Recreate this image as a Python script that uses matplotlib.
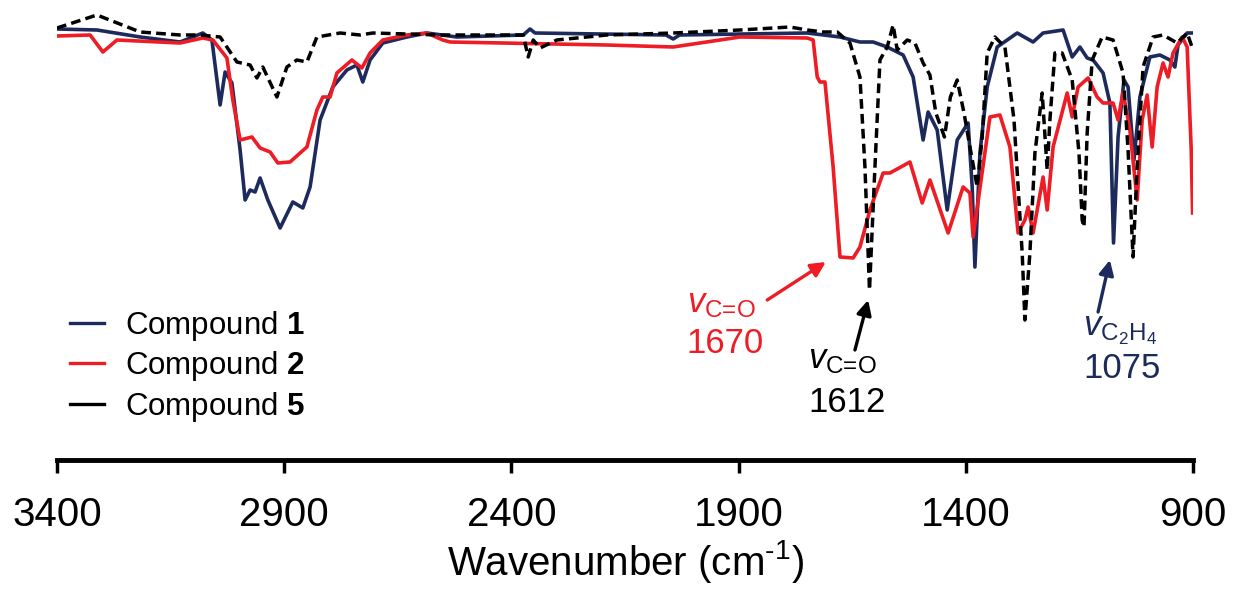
import matplotlib
matplotlib.use('Agg')
import matplotlib.pyplot as plt
from matplotlib.lines import Line2D
import numpy as np

plt.rcParams['font.family'] = ['Liberation Sans', 'DejaVu Sans']
plt.rcParams['mathtext.fontset'] = 'custom'
plt.rcParams['mathtext.rm'] = 'Liberation Sans'
plt.rcParams['mathtext.it'] = 'Liberation Sans:italic'
plt.rcParams['mathtext.bf'] = 'Liberation Sans:bold'

# Data (wavenumber in cm-1, transmittance in arbitrary units)
wn_1 = [3400, 3312, 3217, 3129, 3079, 3059, 3041, 3030, 3015, 2997, 2986, 2975, 2964,
        2953, 2936, 2909, 2881, 2859, 2843, 2821, 2793, 2762, 2740, 2727, 2711, 2683,
        2630, 2586, 2520, 2374, 2359, 2348, 2060, 2044, 2030, 1749, 1677, 1633, 1604,
        1573, 1538, 1516, 1494, 1483, 1463, 1441, 1419, 1395, 1386, 1380, 1369, 1353,
        1331, 1287, 1252, 1230, 1186, 1166, 1149, 1133, 1120, 1098, 1083, 1075, 1065,
        1052, 1043, 1030, 1017, 995, 973, 951, 940, 933, 913, 900]
t_1 = [431, 430, 423, 418, 427, 420, 355, 388, 377, 310, 260, 270, 268,
       282, 260, 232, 258, 252, 273, 340, 373, 390, 395, 378, 400, 417,
       423, 427, 423, 425, 431, 427, 425, 421, 425, 427, 423, 418, 418,
       413, 405, 383, 320, 348, 330, 250, 320, 337, 273, 193, 307, 373,
       413, 427, 418, 427, 430, 403, 413, 402, 400, 387, 357, 217, 323,
       380, 373, 300, 363, 403, 405, 400, 393, 415, 427, 427]

wn_2 = [3400, 3327, 3299, 3268, 3129, 3079, 3057, 3026, 3013, 2997, 2971, 2953, 2931,
        2914, 2887, 2865, 2850, 2828, 2815, 2799, 2784, 2751, 2729, 2711, 2683, 2630,
        2586, 2551, 2535, 2190, 2044, 1897, 1749, 1736, 1727, 1721, 1710, 1692, 1677,
        1648, 1633, 1611, 1582, 1567, 1523, 1496, 1479, 1439, 1406, 1391, 1384, 1347,
        1325, 1303, 1285, 1270, 1263, 1252, 1230, 1221, 1208, 1177, 1166, 1153, 1131,
        1111, 1098, 1076, 1065, 1054, 1039, 1023, 1012, 1001, 990, 979, 966, 955, 944,
        924, 913, 904, 901]
t_2 = [424, 425, 408, 420, 417, 422, 420, 402, 360, 320, 323, 312, 308,
       297, 298, 307, 313, 350, 363, 363, 387, 400, 392, 407, 420, 425,
       427, 420, 418, 415, 413, 423, 422, 420, 383, 378, 378, 293, 203,
       202, 213, 250, 287, 287, 298, 257, 280, 227, 273, 267, 223, 343,
       345, 313, 227, 240, 253, 227, 283, 250, 313, 367, 343, 373, 382,
       363, 357, 357, 340, 368, 330, 260, 340, 365, 313, 373, 397, 383, 407,
       423, 413, 310, 247]

wn_5 = [3400, 3312, 3217, 3129, 3085, 3041, 3004, 2975, 2960, 2947, 2916, 2894, 2872,
        2850, 2828, 2777, 2733, 2705, 2557, 2374, 2363, 2352, 2337, 2300, 2190, 2044,
        1897, 1787, 1749, 1714, 1683, 1655, 1633, 1622, 1612, 1600, 1589, 1573, 1560,
        1551, 1529, 1512, 1494, 1479, 1466, 1447, 1434, 1419, 1404, 1391, 1375, 1364,
        1353, 1336, 1314, 1294, 1276, 1270, 1259, 1248, 1232, 1221, 1215, 1204, 1188,
        1166, 1151, 1144, 1140, 1133, 1122, 1100, 1076, 1054, 1043, 1032, 1023, 1010,
        988, 966, 935, 913, 900]
t_5 = [432, 445, 428, 425, 425, 423, 398, 395, 382, 393, 363, 393, 400,
       398, 423, 427, 425, 427, 425, 425, 403, 420, 412, 420, 425, 427,
       430, 433, 430, 428, 428, 417, 383, 293, 170, 293, 400, 413, 435,
       410, 420, 417, 397, 385, 347, 323, 363, 380, 347, 313, 273, 323,
       407, 423, 413, 340, 207, 140, 207, 307, 367, 290, 340, 407, 407,
       380, 307, 240, 233, 327, 400, 423, 420, 387, 310, 203, 293, 393,
       423, 425, 417, 427, 410]

labels = ['Compound $\\mathbf{1}$', 'Compound $\\mathbf{2}$', 'Compound $\\mathbf{5}$']
c_blue = '#1c2a5c'
c_red = '#ee1c24'

fig = plt.figure(figsize=(12.33, 5.91), dpi=100)
ax = fig.add_axes([0.0462, 0.2217, 0.9214, 0.7783])

ax.plot(wn_1, t_1, color=c_blue, lw=2.6, solid_joinstyle='round')
ax.plot(wn_2, t_2, color=c_red, lw=2.6, solid_joinstyle='round')
ax.plot(wn_5, t_5, color='black', lw=2.5, dashes=(2.8, 1.5))

ax.set_xlim(3400, 900)
ax.set_ylim(0, 460)
ax.set_xticks([3400, 2900, 2400, 1900, 1400, 900])
ax.set_yticks([])
for s in ['top', 'right', 'left']:
    ax.spines[s].set_visible(False)
ax.spines['bottom'].set_linewidth(3.5)
ax.tick_params(axis='x', direction='out', length=9, width=2.5, pad=17, labelsize=29)
ax.set_xlabel('Wavenumber (cm$^{\\text{-1}}$)', fontsize=29, labelpad=3)

# annotations
vco = '$\\mathit{v}_{\\text{C=O}}$'
ax.text(2014, 148, vco, color=c_red, fontsize=25)
ax.text(2014, 107, '1670', color=c_red, fontsize=25)
ax.annotate('', xy=(1708, 198), xytext=(1837, 160),
            arrowprops=dict(arrowstyle='-|>', color=c_red, lw=2.4, mutation_scale=22,
                            shrinkA=0, shrinkB=0))

ax.text(1747, 92, vco, color='black', fontsize=25)
ax.text(1747, 48, '1612', color='black', fontsize=25)
ax.annotate('', xy=(1615, 160), xytext=(1644, 110),
            arrowprops=dict(arrowstyle='-|>', color='black', lw=2.4, mutation_scale=22,
                            shrinkA=0, shrinkB=0))

ax.text(1142, 125, '$\\mathit{v}_{\\mathrm{C_2H_4}}$', color=c_blue, fontsize=25)
ax.text(1142, 82, '1075', color=c_blue, fontsize=25)
ax.annotate('', xy=(1083, 200), xytext=(1109, 148),
            arrowprops=dict(arrowstyle='-|>', color=c_blue, lw=2.4, mutation_scale=22,
                            shrinkA=0, shrinkB=0))

handles = [Line2D([], [], color=c_blue, lw=2.4),
           Line2D([], [], color=c_red, lw=2.4),
           Line2D([], [], color='black', lw=2.4)]
ax.legend(handles, labels, loc='upper left', bbox_to_anchor=(0.0568, 0.478),
          bbox_transform=fig.transFigure, frameon=False, fontsize=22.5,
          handlelength=1.1, handletextpad=0.65, labelspacing=0.22,
          borderpad=0, borderaxespad=0)

fig.savefig('out.png', dpi=100)
